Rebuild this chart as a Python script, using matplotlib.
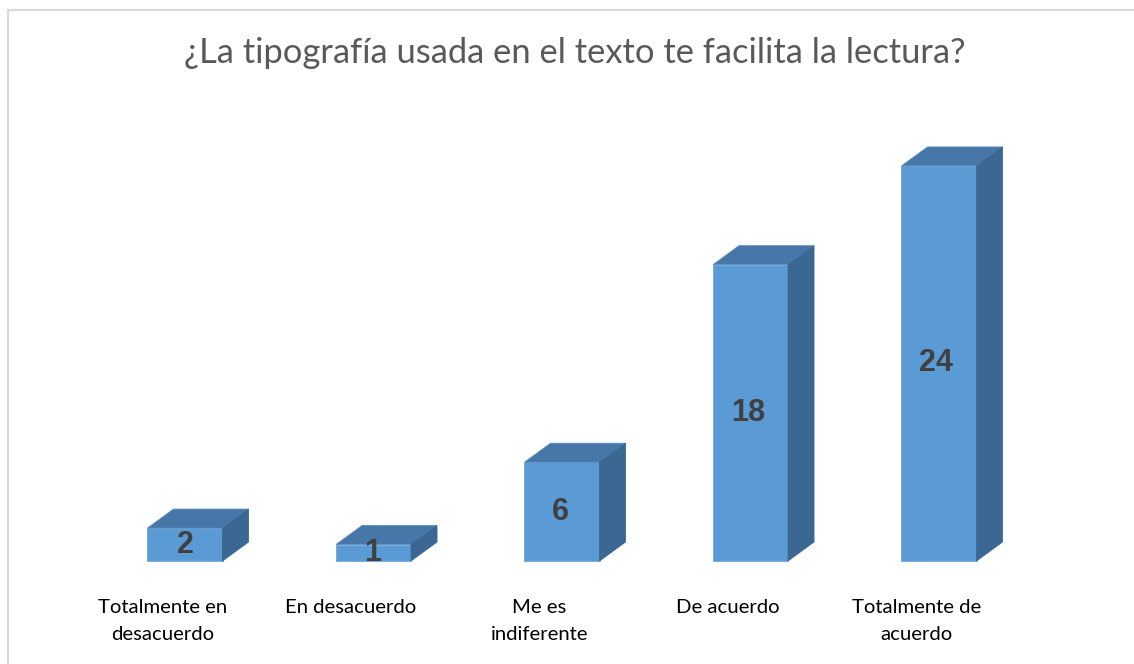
import matplotlib.pyplot as plt
from matplotlib.patches import Polygon, Rectangle

categories = ["Totalmente en\ndesacuerdo", "En desacuerdo", "Me es\nindiferente",
              "De acuerdo", "Totalmente de\nacuerdo"]
values = [2, 1, 6, 18, 24]
title = "¿La tipografía usada en el texto te facilita la lectura?"

# colours of the 3d bar faces
front_c = "#5B9BD5"
top_c = "#4677A8"
side_c = "#3B6892"

fig = plt.figure(figsize=(11.34, 6.64), dpi=100)
ax = fig.add_axes([0, 0, 1, 1])
ax.set_xlim(-0.9814, 5.0345)
ax.set_ylim(-6.258, 34.08)
ax.axis("off")

# outer chart border (light gray), runs off the right/bottom edge
fig.patches.append(Rectangle((8 / 1134, -0.1), 1.2, 1 - 10 / 664 + 0.1,
                             transform=fig.transFigure, fill=False,
                             edgecolor="#D9D9D9", lw=1.5))

w = 0.398      # bar width (category units)
dx = 0.138     # depth offset in x
dy = 1.154     # depth offset in y (value units)

for i, v in enumerate(values):
    x0, x1 = i - w / 2, i + w / 2
    ax.add_patch(Polygon([(x0, 0), (x1, 0), (x1, v), (x0, v)],
                         closed=True, facecolor=front_c, edgecolor="#6FA8DC", lw=0.6))
    ax.add_patch(Polygon([(x0, v), (x1, v), (x1 + dx, v + dy), (x0 + dx, v + dy)],
                         closed=True, facecolor=top_c, edgecolor="#5A8CBF", lw=0.6))
    ax.add_patch(Polygon([(x1, 0), (x1 + dx, dy), (x1 + dx, v + dy), (x1, v)],
                         closed=True, facecolor=side_c, edgecolor=side_c, lw=0.6))
    ax.text(i - 0.004 * i, v / 2, str(v), ha="center", va="center", fontsize=22,
            fontweight="bold", color="#404040", family="Liberation Sans")
    ax.text(i - 0.12, -2.3, categories[i], ha="center", va="top", fontsize=14.6,
            color="#000000", family="Lato", linespacing=1.7)

fig.text(0.507, 1 - 53 / 664, title, ha="center", va="center", fontsize=24.8,
         color="#595959", family="Lato")

fig.savefig("out.png", dpi=100)
